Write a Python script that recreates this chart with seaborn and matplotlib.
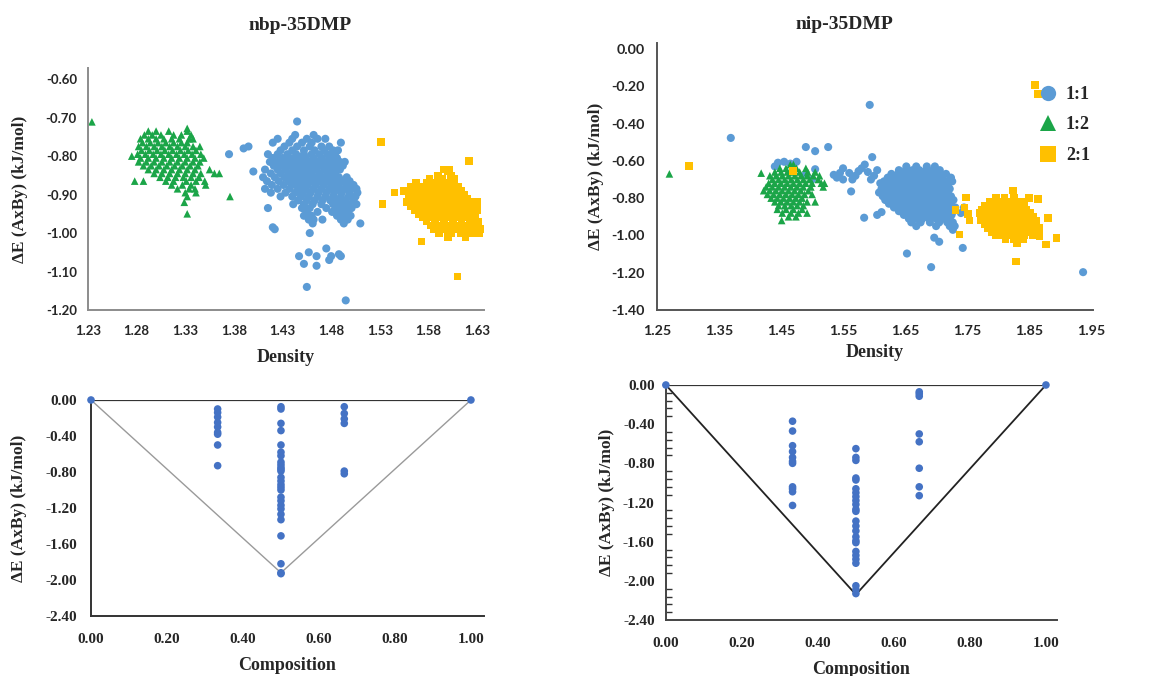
import numpy as np
import pandas as pd
import matplotlib
matplotlib.use("Agg")
import matplotlib.pyplot as plt
from matplotlib.lines import Line2D
from matplotlib.ticker import MultipleLocator, FormatStrFormatter
import seaborn as sns

# ---------------------------------------------------------------------------
# data.  Dense clusters are stored as rows: (dE, [density...])
# ---------------------------------------------------------------------------

# --- nbp-35DMP, density scatter ---
nbp_11_rows = [
    (-0.745, [1.443, 1.462]),
    (-0.755, [1.425, 1.440, 1.455, 1.466, 1.474]),
    (-0.765, [1.420, 1.437, 1.450, 1.460, 1.490]),
    (-0.775, [1.432, 1.445, 1.458, 1.470, 1.478]),
    (-0.785, [1.428, 1.440, 1.452, 1.463, 1.473, 1.482, 1.487]),
    (-0.795, [1.415, 1.425, 1.435, 1.444, 1.452, 1.460, 1.468, 1.476, 1.484]),
    (-0.805, [1.420, 1.430, 1.438, 1.446, 1.454, 1.462, 1.470, 1.478, 1.486]),
    (-0.815, [1.417, 1.425, 1.433, 1.441, 1.449, 1.457, 1.465, 1.473, 1.481, 1.489, 1.494]),
    (-0.825, [1.421, 1.429, 1.437, 1.445, 1.453, 1.461, 1.469, 1.477, 1.485, 1.492]),
    (-0.835, [1.412, 1.425, 1.433, 1.441, 1.449, 1.457, 1.465, 1.473, 1.481, 1.489]),
    (-0.845, [1.418, 1.428, 1.436, 1.444, 1.452, 1.460, 1.468, 1.476, 1.484]),
    (-0.855, [1.410, 1.422, 1.432, 1.440, 1.448, 1.456, 1.464, 1.472, 1.480, 1.488, 1.496]),
    (-0.865, [1.414, 1.426, 1.436, 1.444, 1.452, 1.460, 1.468, 1.476, 1.484, 1.492, 1.499]),
    (-0.875, [1.419, 1.431, 1.440, 1.448, 1.456, 1.464, 1.472, 1.480, 1.488, 1.496, 1.503]),
    (-0.885, [1.412, 1.425, 1.437, 1.446, 1.454, 1.462, 1.470, 1.478, 1.486, 1.494, 1.501, 1.506]),
    (-0.895, [1.418, 1.433, 1.443, 1.451, 1.459, 1.467, 1.475, 1.483, 1.491, 1.499, 1.507]),
    (-0.905, [1.428, 1.440, 1.449, 1.457, 1.466, 1.474, 1.482, 1.490, 1.498, 1.505]),
    (-0.915, [1.446, 1.455, 1.463, 1.471, 1.479, 1.487, 1.495, 1.503]),
    (-0.925, [1.441, 1.452, 1.461, 1.470, 1.482, 1.490, 1.498, 1.506]),
    (-0.935, [1.450, 1.458, 1.475, 1.485, 1.493, 1.501]),
    (-0.945, [1.455, 1.466, 1.481, 1.489, 1.497]),
    (-0.955, [1.452, 1.460, 1.486, 1.494, 1.500]),
    (-0.965, [1.457, 1.471, 1.490, 1.497]),
    (-0.975, [1.461, 1.493]),
]
nbp_11_extra = [
    (1.375, -0.795), (1.390, -0.780), (1.395, -0.775), (1.400, -0.840),
    (1.445, -0.710), (1.415, -0.935), (1.420, -0.985), (1.422, -0.990),
    (1.447, -1.060), (1.452, -1.080), (1.457, -1.050), (1.465, -1.085),
    (1.465, -1.060), (1.475, -1.040), (1.478, -1.070), (1.480, -1.060),
    (1.488, -1.055), (1.490, -1.060), (1.455, -1.140), (1.495, -1.175),
    (1.510, -0.975), (1.462, -0.965), (1.458, -1.000),
]
nbp_12_rows = [
    (-0.735, [1.292, 1.300, 1.313, 1.332]),
    (-0.745, [1.288, 1.296, 1.305, 1.318, 1.326, 1.336]),
    (-0.755, [1.284, 1.292, 1.300, 1.308, 1.316, 1.324, 1.334, 1.338]),
    (-0.765, [1.286, 1.294, 1.302, 1.310, 1.318, 1.326, 1.332]),
    (-0.775, [1.282, 1.290, 1.298, 1.306, 1.314, 1.322, 1.330, 1.338, 1.345]),
    (-0.785, [1.285, 1.293, 1.301, 1.309, 1.317, 1.325, 1.333, 1.341]),
    (-0.795, [1.281, 1.289, 1.297, 1.305, 1.313, 1.321, 1.329, 1.337, 1.346]),
    (-0.805, [1.284, 1.292, 1.300, 1.308, 1.316, 1.324, 1.332, 1.340, 1.349]),
    (-0.815, [1.282, 1.290, 1.298, 1.306, 1.314, 1.322, 1.330, 1.338, 1.345]),
    (-0.825, [1.287, 1.295, 1.303, 1.311, 1.319, 1.327, 1.335, 1.343]),
    (-0.835, [1.292, 1.300, 1.308, 1.316, 1.324, 1.332, 1.340, 1.355]),
    (-0.845, [1.298, 1.306, 1.314, 1.322, 1.330, 1.338, 1.346, 1.360, 1.365]),
    (-0.855, [1.304, 1.312, 1.320, 1.328, 1.336, 1.344]),
    (-0.865, [1.278, 1.287, 1.310, 1.318, 1.331, 1.341, 1.350]),
    (-0.875, [1.316, 1.327, 1.336, 1.351]),
    (-0.885, [1.322, 1.334, 1.340]),
    (-0.895, [1.330, 1.341]),
    (-0.905, [1.332, 1.376]),
    (-0.920, [1.329]),
    (-0.950, [1.332]),
]
nbp_12_extra = [(1.234, -0.711), (1.275, -0.800), (1.332, -0.728)]
nbp_21_rows = [
    (-0.835, [1.596, 1.601]),
    (-0.850, [1.590, 1.603]),
    (-0.860, [1.581, 1.594, 1.607]),
    (-0.870, [1.567, 1.578, 1.588, 1.598, 1.606]),
    (-0.880, [1.562, 1.572, 1.583, 1.592, 1.601, 1.611]),
    (-0.890, [1.555, 1.566, 1.576, 1.586, 1.595, 1.604, 1.614]),
    (-0.900, [1.560, 1.570, 1.580, 1.589, 1.598, 1.607, 1.617]),
    (-0.910, [1.565, 1.574, 1.583, 1.592, 1.601, 1.610, 1.620]),
    (-0.920, [1.558, 1.568, 1.578, 1.587, 1.596, 1.605, 1.614, 1.624, 1.630]),
    (-0.930, [1.562, 1.572, 1.581, 1.590, 1.599, 1.608, 1.617, 1.627]),
    (-0.940, [1.566, 1.575, 1.585, 1.594, 1.603, 1.612, 1.621, 1.630]),
    (-0.950, [1.570, 1.579, 1.588, 1.597, 1.606, 1.615, 1.624]),
    (-0.960, [1.574, 1.583, 1.592, 1.601, 1.610, 1.619, 1.628]),
    (-0.970, [1.578, 1.587, 1.596, 1.605, 1.614, 1.623, 1.631]),
    (-0.980, [1.582, 1.591, 1.600, 1.609, 1.618, 1.627]),
    (-0.990, [1.586, 1.597, 1.606, 1.616, 1.625, 1.633]),
    (-1.000, [1.591, 1.603, 1.613, 1.624, 1.632]),
    (-1.010, [1.600, 1.618]),
]
nbp_21_extra = [
    (1.531, -0.763), (1.533, -0.925), (1.545, -0.895), (1.573, -1.022),
    (1.610, -1.113), (1.622, -0.813), (1.600, -0.840),
]

# --- nip-35DMP, density scatter ---
nip_11_rows = [
    (-0.63, [1.652, 1.668, 1.685, 1.698]),
    (-0.65, [1.640, 1.651, 1.662, 1.673, 1.684, 1.695, 1.706]),
    (-0.67, [1.628, 1.639, 1.650, 1.661, 1.672, 1.683, 1.694, 1.705, 1.716]),
    (-0.69, [1.622, 1.633, 1.644, 1.655, 1.666, 1.677, 1.688, 1.699, 1.710, 1.724]),
    (-0.71, [1.616, 1.627, 1.638, 1.649, 1.660, 1.671, 1.682, 1.693, 1.704, 1.715, 1.726]),
    (-0.73, [1.620, 1.631, 1.642, 1.653, 1.664, 1.675, 1.686, 1.697, 1.708, 1.719]),
    (-0.75, [1.612, 1.625, 1.636, 1.647, 1.658, 1.669, 1.680, 1.691, 1.702, 1.713, 1.722]),
    (-0.77, [1.608, 1.620, 1.631, 1.642, 1.653, 1.664, 1.675, 1.686, 1.697, 1.708, 1.719]),
    (-0.79, [1.614, 1.625, 1.636, 1.647, 1.658, 1.669, 1.680, 1.691, 1.702, 1.713, 1.724]),
    (-0.81, [1.618, 1.630, 1.641, 1.652, 1.663, 1.674, 1.685, 1.696, 1.707, 1.718, 1.728]),
    (-0.83, [1.624, 1.636, 1.647, 1.658, 1.669, 1.680, 1.691, 1.702, 1.713, 1.724]),
    (-0.85, [1.632, 1.643, 1.654, 1.665, 1.676, 1.687, 1.698, 1.709, 1.720, 1.731]),
    (-0.87, [1.640, 1.651, 1.662, 1.673, 1.684, 1.695, 1.706, 1.717, 1.728]),
    (-0.89, [1.648, 1.659, 1.670, 1.681, 1.692, 1.703, 1.714, 1.725]),
    (-0.91, [1.656, 1.667, 1.678, 1.689, 1.700, 1.711, 1.722]),
    (-0.93, [1.660, 1.675, 1.690, 1.705, 1.718, 1.727]),
    (-0.95, [1.668, 1.700, 1.722, 1.730]),
    (-0.97, [1.727]),
]
nip_11_extra = [
    (1.369, -0.477), (1.593, -0.300), (1.490, -0.526), (1.505, -0.548),
    (1.526, -0.526), (1.597, -0.580), (1.653, -1.097), (1.692, -1.170),
    (1.743, -1.067), (1.937, -1.197), (1.697, -1.012), (1.705, -1.034),
    (1.584, -0.905), (1.563, -0.764), (1.605, -0.890), (1.612, -0.875),
    (1.505, -0.645), (1.445, -0.610), (1.455, -0.605), (1.465, -0.615),
    (1.475, -0.605), (1.535, -0.675), (1.540, -0.690), (1.550, -0.640),
    (1.550, -0.700), (1.560, -0.665), (1.570, -0.680), (1.575, -0.655),
    (1.580, -0.640), (1.585, -0.620), (1.590, -0.660), (1.595, -0.700),
    (1.600, -0.680), (1.605, -0.650), (1.610, -0.720), (1.545, -0.665),
    (1.565, -0.700), (1.745, -0.850), (1.740, -0.880), (1.440, -0.630),
    (1.490, -0.670), (1.500, -0.700),
]
nip_12_rows = [
    (-0.62, [1.465, 1.470]),
    (-0.64, [1.448, 1.458, 1.475, 1.490]),
    (-0.66, [1.440, 1.450, 1.460, 1.470, 1.480, 1.493, 1.505]),
    (-0.68, [1.432, 1.442, 1.452, 1.462, 1.472, 1.482, 1.492, 1.502, 1.512]),
    (-0.70, [1.436, 1.446, 1.456, 1.466, 1.476, 1.486, 1.496, 1.510]),
    (-0.72, [1.430, 1.440, 1.450, 1.460, 1.470, 1.480, 1.490, 1.500, 1.515]),
    (-0.74, [1.426, 1.436, 1.446, 1.456, 1.466, 1.476, 1.486, 1.498, 1.518]),
    (-0.76, [1.422, 1.432, 1.442, 1.452, 1.462, 1.472, 1.482, 1.494]),
    (-0.78, [1.428, 1.438, 1.448, 1.458, 1.468, 1.478, 1.488, 1.500]),
    (-0.80, [1.434, 1.444, 1.454, 1.464, 1.474, 1.484]),
    (-0.82, [1.440, 1.450, 1.460, 1.470, 1.480, 1.492, 1.505]),
    (-0.84, [1.446, 1.456, 1.466, 1.476, 1.486]),
    (-0.86, [1.444, 1.458, 1.470, 1.484]),
    (-0.88, [1.452, 1.466, 1.478, 1.492]),
    (-0.90, [1.462, 1.474]),
    (-0.92, [1.451]),
]
nip_12_extra = [(1.270, -0.670), (1.418, -0.666), (1.520, -0.720)]
nip_21_rows = [
    (-0.76, [1.824]),
    (-0.80, [1.797, 1.810, 1.826, 1.850]),
    (-0.82, [1.786, 1.798, 1.808, 1.818, 1.828, 1.840]),
    (-0.84, [1.778, 1.790, 1.800, 1.810, 1.820, 1.830, 1.842]),
    (-0.86, [1.774, 1.784, 1.794, 1.804, 1.814, 1.824, 1.834, 1.846]),
    (-0.88, [1.770, 1.780, 1.790, 1.800, 1.810, 1.820, 1.830, 1.840, 1.852]),
    (-0.90, [1.776, 1.786, 1.796, 1.806, 1.816, 1.826, 1.836, 1.846, 1.856]),
    (-0.92, [1.772, 1.782, 1.792, 1.802, 1.812, 1.822, 1.832, 1.842, 1.852, 1.862]),
    (-0.94, [1.778, 1.788, 1.798, 1.808, 1.818, 1.828, 1.838, 1.848, 1.858]),
    (-0.96, [1.784, 1.794, 1.804, 1.814, 1.824, 1.834, 1.844, 1.856, 1.866]),
    (-0.98, [1.790, 1.800, 1.810, 1.820, 1.830, 1.840, 1.852, 1.862]),
    (-1.00, [1.796, 1.808, 1.818, 1.830, 1.842, 1.856]),
    (-1.02, [1.812, 1.826, 1.840]),
    (-1.04, [1.830]),
]
nip_21_extra = [
    (1.748, -0.796), (1.746, -0.850), (1.751, -0.886), (1.754, -0.920),
    (1.738, -0.995), (1.829, -1.139), (1.864, -0.805), (1.880, -0.905),
    (1.877, -1.049), (1.894, -1.013), (1.867, -1.004), (1.731, -0.865),
    (1.302, -0.629), (1.469, -0.656), (1.859, -0.193), (1.864, -0.243),
]

# --- convex hull plots (composition vs dE) ---
nbp_comp = ([0.0] + [1/3] * 9 + [0.5] * 27 + [2/3] * 6 + [1.0])
nbp_hull_dE = ([0.0]
               + [-0.10, -0.14, -0.19, -0.25, -0.30, -0.36, -0.38, -0.50, -0.73]
               + [-0.075, -0.10, -0.26, -0.34, -0.50, -0.58, -0.62, -0.69, -0.72,
                  -0.75, -0.77, -0.79, -0.86, -0.90, -0.94, -0.97, -1.00, -1.08,
                  -1.12, -1.17, -1.21, -1.27, -1.33, -1.51, -1.82, -1.92, -1.93]
               + [-0.075, -0.15, -0.21, -0.26, -0.79, -0.82]
               + [0.0])
nbp_hull_x = [0.0, 0.5, 1.0]
nbp_hull_y = [0.0, -1.92, 0.0]

nip_comp = ([0.0] + [1/3] * 11 + [0.5] * 25 + [2/3] * 8 + [1.0])
nip_hull_dE = ([0.0]
               + [-0.37, -0.47, -0.62, -0.68, -0.74, -0.78, -0.80, -1.04, -1.06, -1.09, -1.23]
               + [-0.65, -0.74, -0.77, -0.95, -0.97, -1.06, -1.10, -1.14, -1.18, -1.22,
                  -1.27, -1.29, -1.39, -1.44, -1.49, -1.55, -1.59, -1.61, -1.70, -1.74,
                  -1.78, -1.82, -2.05, -2.09, -2.13]
               + [-0.07, -0.09, -0.115, -0.50, -0.58, -0.85, -1.04, -1.13]
               + [0.0])
nip_hull_x = [0.0, 0.5, 1.0]
nip_hull_y = [0.0, -2.14, 0.0]

ratios = ["1:1", "1:2", "2:1"]
colors = {"1:1": "#5B9BD5", "1:2": "#1BA548", "2:1": "#FFC000"}
markers = {"1:1": "o", "1:2": "^", "2:1": "s"}

tl_xticks = [1.23, 1.28, 1.33, 1.38, 1.43, 1.48, 1.53, 1.58, 1.63]
tl_yticks = [-1.20, -1.10, -1.00, -0.90, -0.80, -0.70, -0.60]
tr_xticks = [1.25, 1.35, 1.45, 1.55, 1.65, 1.75, 1.85, 1.95]
tr_yticks = [-1.40, -1.20, -1.00, -0.80, -0.60, -0.40, -0.20, 0.00]
hull_xticks = [0.0, 0.2, 0.4, 0.6, 0.8, 1.0]
hull_yticks = [-2.4, -2.0, -1.6, -1.2, -0.8, -0.4, 0.0]


def expand(rows, extra):
    xs, ys = [], []
    for y, row in rows:
        xs += row
        ys += [y] * len(row)
    for x, y in extra:
        xs.append(x)
        ys.append(y)
    return xs, ys


def density_frame(groups):
    parts = []
    for ratio, (rows, extra) in groups.items():
        xs, ys = expand(rows, extra)
        parts.append(pd.DataFrame({"density": xs, "dE": ys, "ratio": ratio}))
    return pd.concat(parts, ignore_index=True)


nbp_df = density_frame({"1:1": (nbp_11_rows, nbp_11_extra),
                        "1:2": (nbp_12_rows, nbp_12_extra),
                        "2:1": (nbp_21_rows, nbp_21_extra)})
nip_df = density_frame({"1:1": (nip_11_rows, nip_11_extra),
                        "1:2": (nip_12_rows, nip_12_extra),
                        "2:1": (nip_21_rows, nip_21_extra)})

sns.set_theme(style="white")
plt.rcParams["font.family"] = ["Liberation Serif", "DejaVu Serif"]
plt.rcParams["font.weight"] = "bold"

SERIF = ["Liberation Serif", "DejaVu Serif"]
SANS = ["Lato", "DejaVu Sans"]
YLAB = "ΔE (AxBy) (kJ/mol)"

fig = plt.figure(figsize=(11.52, 6.76), dpi=100)
ax_tl = fig.add_axes([0.0764, 0.5414, 0.3436, 0.3580])
ax_tr = fig.add_axes([0.5703, 0.5414, 0.3785, 0.3950])
ax_bl = fig.add_axes([0.0790, 0.0888, 0.3410, 0.3195])
ax_br = fig.add_axes([0.5780, 0.0828, 0.3395, 0.3477])

sizes = {"1:1": 34, "1:2": 30, "2:1": 30}


def density_panel(ax, df, title, title_xy, xlim, ylim, xticks, yticks, spine_col,
                  tick_fs, xpad, ypad, ylabelpad, xlabelpad):
    for r in ratios:
        sub = df[df["ratio"] == r]
        sns.scatterplot(data=sub, x="density", y="dE", ax=ax, color=colors[r],
                        marker=markers[r], s=sizes[r], edgecolor="none",
                        linewidth=0, legend=False)
    ax.set_xlim(*xlim)
    ax.set_ylim(*ylim)
    ax.set_xticks(xticks)
    ax.set_yticks(yticks)
    ax.xaxis.set_major_formatter(FormatStrFormatter("%.2f"))
    ax.yaxis.set_major_formatter(FormatStrFormatter("%.2f"))
    for lab in ax.get_xticklabels() + ax.get_yticklabels():
        lab.set_family(SANS)
        lab.set_fontweight("bold")
        lab.set_fontsize(tick_fs)
    ax.tick_params(axis="x", length=0, pad=xpad)
    ax.tick_params(axis="y", length=0, pad=ypad)
    for s in ["top", "right"]:
        ax.spines[s].set_visible(False)
    for s in ["left", "bottom"]:
        ax.spines[s].set_color(spine_col)
        ax.spines[s].set_linewidth(1.4)
    ax.set_xlabel("Density", fontsize=13, fontweight="bold", family=SERIF,
                  labelpad=xlabelpad)
    ax.set_ylabel(YLAB, fontsize=12.5, fontweight="bold", family=SERIF,
                  labelpad=ylabelpad)
    ax.set_title(title, fontsize=14, fontweight="bold", family=SERIF, pad=0,
                 x=title_xy[0], y=title_xy[1])


density_panel(ax_tl, nbp_df, "nbp-35DMP", (0.535, 1.155), (1.23, 1.637),
              (-1.20, -0.571), tl_xticks, tl_yticks, "#8c8c8c", 9.5, 11, 8, 13, 8.5)
density_panel(ax_tr, nip_df, "nip-35DMP", (0.43, 1.051), (1.25, 1.953),
              (-1.40, 0.032), tr_xticks, tr_yticks, "#555555", 10.3, 11, 9, 5, 5)

handles = [Line2D([], [], linestyle="none", marker=markers[r], color=colors[r],
                  markersize=11, markeredgewidth=0) for r in ratios]
ax_tr.legend(handles, ratios, loc="upper right", bbox_to_anchor=(1.03, 0.90),
             frameon=False, handletextpad=0.0, labelspacing=0.75,
             prop={"family": SERIF, "weight": "bold", "size": 13})


def hull_panel(ax, comp, dE, hx, hy, hull_col, hull_lw, spine_col, minor,
               ypad, ylabelpad, xmax):
    sns.lineplot(x=[0.0, 1.0], y=[0.0, 0.0], ax=ax, color="#333333", lw=1.6,
                 sort=False, estimator=None)
    sns.lineplot(x=hx, y=hy, ax=ax, color=hull_col, lw=hull_lw, sort=False,
                 estimator=None)
    sns.scatterplot(x=comp, y=dE, ax=ax, color="#4472C4", s=30, edgecolor="none",
                    linewidth=0, legend=False, clip_on=False, zorder=5)
    ax.set_xlim(0.0, xmax)
    ax.set_ylim(-2.4, 0.0)
    ax.set_xticks(hull_xticks)
    ax.set_yticks(hull_yticks)
    ax.xaxis.set_major_formatter(FormatStrFormatter("%.2f"))
    ax.yaxis.set_major_formatter(FormatStrFormatter("%.2f"))
    for lab in ax.get_xticklabels() + ax.get_yticklabels():
        lab.set_family(SERIF)
        lab.set_fontweight("bold")
        lab.set_fontsize(11)
    ax.tick_params(axis="x", length=0, pad=12)
    ax.tick_params(axis="y", length=0, pad=ypad)
    if minor:
        ax.yaxis.set_minor_locator(MultipleLocator(0.08))
        ax.tick_params(axis="y", which="minor", direction="in", length=4,
                       width=1, color="#333333", left=True)
    for s in ["top", "right"]:
        ax.spines[s].set_visible(False)
    for s in ["left", "bottom"]:
        ax.spines[s].set_color(spine_col)
        ax.spines[s].set_linewidth(1.4)
    ax.set_xlabel("Composition", fontsize=13, fontweight="bold", family=SERIF,
                  labelpad=8)
    ax.set_ylabel(YLAB, fontsize=12.5, fontweight="bold", family=SERIF,
                  labelpad=ylabelpad)


hull_panel(ax_bl, nbp_comp, nbp_hull_dE, nbp_hull_x, nbp_hull_y, "#9a9a9a", 1.0,
           "#333333", False, 10, 13.5, 1.034)
hull_panel(ax_br, nip_comp, nip_hull_dE, nip_hull_x, nip_hull_y, "#222222", 1.3,
           "#444444", True, 8, 6, 1.029)

fig.savefig("out.png", dpi=100)
